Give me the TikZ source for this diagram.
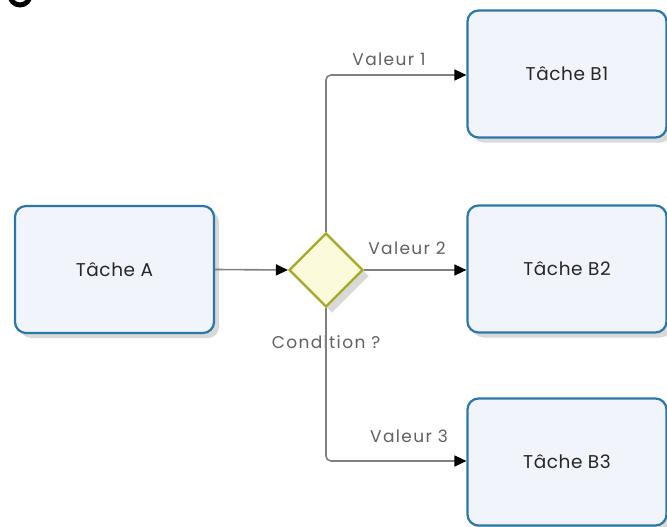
\documentclass[tikz,border=0pt]{standalone}
\usepackage{fontspec}
\setmainfont{Poppins}
\usetikzlibrary{shapes.geometric,arrows.meta,shadows}
\definecolor{boxblue}{HTML}{2B78A8}
\definecolor{boxfill}{HTML}{F1F4FB}
\definecolor{gwfill}{HTML}{FBFBDC}
\definecolor{gwdraw}{HTML}{A8A828}
\definecolor{linegrey}{HTML}{808080}
\tikzset{
  taskbox/.style={draw=boxblue, line width=2.2pt, fill=boxfill, rounded corners=11pt,
    minimum width=199pt, minimum height=127pt, inner sep=0pt,
    font=\fontsize{18.5}{22}\selectfont\addfontfeature{LetterSpace=3}, text=black!85,
    drop shadow={shadow xshift=5pt, shadow yshift=-5pt, fill=black, opacity=0.15}},
  gateway/.style={diamond, draw=gwdraw, line width=2.2pt, fill=gwfill,
    minimum width=74pt, minimum height=74pt, inner sep=0pt,
    drop shadow={shadow xshift=6pt, shadow yshift=-6pt, fill=black, opacity=0.15}},
  flow/.style={draw=linegrey, line width=1.6pt, rounded corners=5pt,
    -{Triangle[length=12pt,width=11pt,fill=black,color=black]}},
  flowlabel/.style={font=\fontsize{17}{20}\selectfont\addfontfeature{LetterSpace=8}, text=black!62},
}
\begin{document}
\begin{tikzpicture}[x=1pt,y=-1pt]
\useasboundingbox (0,0) rectangle (667,527);
\fill[white] (0,0) rectangle (667,527);
\draw[black, line width=5pt] (20,-5) circle (10);
\node[taskbox] (a) at (114.5,269.5) {Tâche A};
\node[taskbox] (b1) at (567,74) {Tâche B1};
\node[taskbox] (b2) at (567,269) {Tâche B2};
\node[taskbox] (b3) at (567,462) {Tâche B3};
\node[gateway] (g) at (326,270) {};
\node[flowlabel] (cond) at (326,342) {Condition ?};
\coordinate (c1) at (326,75);
\coordinate (c3) at (326,461);
\draw[flow] (a.east) -- (g.west);
\draw[flow] (g.east) -- (b2.west |- g.east);
\draw[flow] (g.north) -- (c1) -- (b1.west |- c1);
\draw[flow] (g.south) -- (c3) -- (b3.west |- c3);
\node[flowlabel] (v1) at (389,59) {Valeur 1};
\node[flowlabel] (v2) at (407,248) {Valeur 2};
\node[flowlabel] (v3) at (409,436) {Valeur 3};
\end{tikzpicture}
\end{document}
